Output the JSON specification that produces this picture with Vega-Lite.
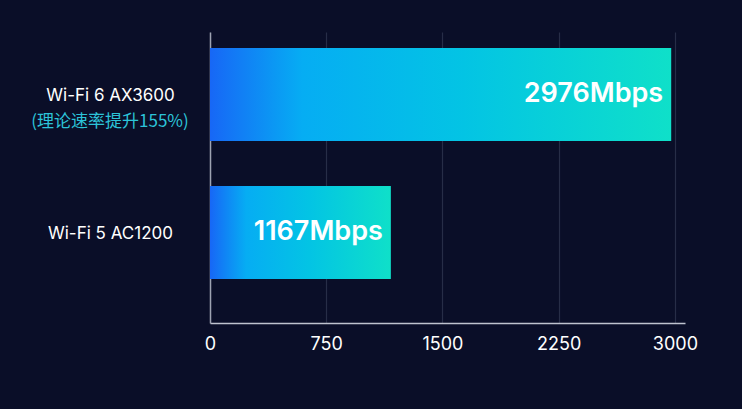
{
  "$schema": "https://vega.github.io/schema/vega-lite/v6.json",
  "width": 475,
  "height": 291,
  "autosize": {"type": "none"},
  "padding": {"left": 210, "top": 32, "right": 57, "bottom": 86},
  "background": "#0a0e28",
  "config": {
    "font": "Inter",
    "view": {"stroke": null},
    "axis": {"labelFont": "Inter", "labelColor": "#ffffff", "title": null, "ticks": false}
  },
  "data": {
    "values": [
      {"name": "Wi-Fi 6 AX3600", "speed": 2976, "label": "2976Mbps", "note": "(理论速率提升155%)"},
      {"name": "Wi-Fi 5 AC1200", "speed": 1167, "label": "1167Mbps", "note": ""}
    ]
  },
  "encoding": {
    "y": {
      "field": "name",
      "type": "nominal",
      "sort": null,
      "scale": {"paddingInner": 0.326, "paddingOuter": 0.217, "align": 0.267},
      "axis": {
        "domain": true,
        "domainColor": "#9ea3b2",
        "domainWidth": 1.5,
        "grid": false,
        "labelAlign": "center",
        "labelBaseline": "middle",
        "labelPadding": 100,
        "labelFontSize": 17,
        "labelOffset": 1
      }
    },
    "x": {
      "field": "speed",
      "type": "quantitative",
      "scale": {"domain": [0, 3065], "nice": false},
      "axis": {
        "values": [0, 750, 1500, 2250, 3000],
        "format": "d",
        "grid": true,
        "gridColor": "#272d47",
        "gridWidth": 1.2,
        "domainColor": "#bfc3cf",
        "domainWidth": 1.5,
        "labelFontSize": 18,
        "labelPadding": 12,
        "labelFlush": false
      }
    }
  },
  "layer": [
    {
      "mark": {
        "type": "bar",
        "color": {
          "gradient": "linear",
          "x1": 0, "y1": 0, "x2": 1, "y2": 0,
          "stops": [
            {"offset": 0, "color": "#1767f6"},
            {"offset": 0.2, "color": "#06adf3"},
            {"offset": 0.55, "color": "#03c4e4"},
            {"offset": 1, "color": "#0fe0c9"}
          ]
        }
      }
    },
    {
      "mark": {
        "type": "text",
        "align": "right",
        "baseline": "middle",
        "dx": -8,
        "dy": -1,
        "font": "Inter",
        "fontSize": 27,
        "fontWeight": 600,
        "color": "#ffffff"
      },
      "encoding": {"text": {"field": "label"}}
    },
    {
      "transform": [{"filter": "datum.note != ''"}],
      "mark": {
        "type": "text",
        "align": "center",
        "baseline": "middle",
        "dx": -100,
        "dy": 27,
        "font": "Noto Sans CJK SC",
        "fontSize": 17,
        "color": "#2cc3d8"
      },
      "encoding": {
        "x": {"datum": 0},
        "text": {"field": "note"}
      }
    }
  ]
}
